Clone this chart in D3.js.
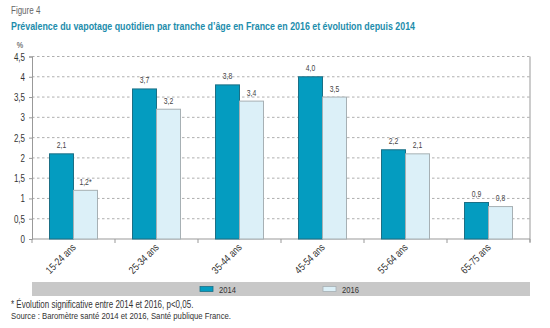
<!DOCTYPE html>
<html>
<head>
<meta charset="utf-8">
<script src="https://cdn.jsdelivr.net/npm/d3@7"></script>
<style>
  html, body { margin: 0; padding: 0; background: #fff; }
  svg { display: block; font-family: "Liberation Sans", Arial, sans-serif; }
</style>
</head>
<body>
<svg id="chart" width="550" height="328"></svg>
<script>
// Daily vaping prevalence by age group (%), 2014 vs 2016
const categories = ["15-24 ans", "25-34 ans", "35-44 ans", "45-54 ans", "55-64 ans", "65-75 ans"];
const values2014 = [2.1, 3.7, 3.8, 4.0, 2.2, 0.9];
const values2016 = [1.2, 3.2, 3.4, 3.5, 2.1, 0.8];
const significant2016 = [true, false, false, false, false, false];
const seriesNames = ["2014", "2016"];
const yTicks = [0, 0.5, 1, 1.5, 2, 2.5, 3, 3.5, 4, 4.5];

const svg = d3.select("#chart");
const plotLeft = 32, plotRight = 530, plotTop = 56.5, plotBottom = 239;
const colors = { "2014": "#049cc0", "2016": "#dcf0f8" };
const strokes = { "2014": "#1b6f85", "2016": "#a7b0b4" };
const comma = v => String(v).replace(".", ",");
const fmt1 = v => v.toFixed(1).replace(".", ",");
const NARROW = 0.8; // condensed typeface look

// Text helper: places text at (x, y) with a horizontally condensed glyph shape
function label(parent, x, y, txt, opts = {}) {
  const t = parent.append("text")
    .attr("transform", `translate(${x},${y})${opts.rotate ? ` rotate(${opts.rotate})` : ""} scale(${opts.narrow || NARROW},1)`)
    .attr("font-size", opts.size || 9)
    .attr("fill", opts.fill || "#333")
    .attr("text-anchor", opts.anchor || "start")
    .text(txt);
  if (opts.weight) t.attr("font-weight", opts.weight);
  return t;
}

// Header
label(svg, 11, 14, "Figure 4", { size: 10, fill: "#666" });
label(svg, 11, 30, "Prévalence du vapotage quotidien par tranche d’âge en France en 2016 et évolution depuis 2014",
  { size: 11.5, weight: "bold", fill: "#1d8dac", narrow: 0.77 });

const x = d3.scaleBand().domain(categories).range([plotLeft, plotRight]);
const y = d3.scaleLinear().domain([0, 4.5]).range([plotBottom, plotTop]);
const barW = 24;

// Dashed grid
svg.append("g").selectAll("line").data(yTicks.filter(t => t > 0)).join("line")
  .attr("x1", plotLeft).attr("x2", plotRight)
  .attr("y1", d => y(d)).attr("y2", d => y(d))
  .attr("stroke", "#9a9a9a").attr("stroke-width", 0.8).attr("stroke-dasharray", "2.5,2.5");

// Y axis
const yAxis = svg.append("g").attr("transform", `translate(${plotLeft},0)`)
  .call(d3.axisLeft(y).tickValues(yTicks).tickFormat(comma).tickSize(3).tickPadding(3));
yAxis.select(".domain").attr("stroke", "#999");
yAxis.selectAll(".tick line").attr("stroke", "#999");
yAxis.selectAll(".tick text")
  .attr("x", null).attr("dy", null)
  .attr("transform", `translate(-7,3.5) scale(${NARROW},1)`)
  .attr("font-size", 10).attr("fill", "#333")
  .attr("font-family", "Liberation Sans, Arial, sans-serif");

label(svg, 20, 48, "%", { size: 9, anchor: "middle" });

// Right frame line
svg.append("line").attr("x1", plotRight).attr("x2", plotRight).attr("y1", plotTop).attr("y2", plotBottom + 3)
  .attr("stroke", "#999");

// X axis with tick marks at band boundaries
svg.append("line").attr("x1", plotLeft).attr("x2", plotRight).attr("y1", plotBottom).attr("y2", plotBottom)
  .attr("stroke", "#999");
const bounds = categories.map(c => x(c)).concat([plotRight]);
svg.append("g").selectAll("line").data(bounds).join("line")
  .attr("x1", d => d).attr("x2", d => d).attr("y1", plotBottom).attr("y2", plotBottom + 4)
  .attr("stroke", "#999");

// Category labels, rotated
const catG = svg.append("g");
categories.forEach(c => {
  label(catG, x(c) + x.bandwidth() / 2 + 3, plotBottom + 9, c, { size: 10.5, anchor: "end", rotate: -45 });
});

// Bars
const rows = categories.map((c, i) => [
  { cat: c, s: "2014", v: values2014[i], star: false },
  { cat: c, s: "2016", v: values2016[i], star: significant2016[i] }
]).flat();
const bx = d => x(d.cat) + x.bandwidth() / 2 + (d.s === "2014" ? -barW : 0);

svg.append("g").selectAll("rect").data(rows).join("rect")
  .attr("x", bx).attr("y", d => y(d.v))
  .attr("width", barW).attr("height", d => y(0) - y(d.v))
  .attr("fill", d => colors[d.s]).attr("stroke", d => strokes[d.s]).attr("stroke-width", 1);

const valG = svg.append("g");
rows.forEach(d => {
  label(valG, bx(d) + barW / 2, y(d.v) - 5.5, fmt1(d.v) + (d.star ? "*" : ""),
    { size: 8.5, anchor: "middle", fill: "#444" });
});

// Legend band
svg.append("rect").attr("x", plotLeft).attr("y", 282).attr("width", plotRight - plotLeft).attr("height", 14)
  .attr("fill", "#c8c8c8");
const legendX = [200, 323];
seriesNames.forEach((s, i) => {
  svg.append("rect").attr("x", legendX[i]).attr("y", 286.5).attr("width", 13).attr("height", 5)
    .attr("fill", colors[s]).attr("stroke", strokes[s]).attr("stroke-width", 0.8);
  label(svg, legendX[i] + 19, 292.5, s, { size: 9.5 });
});

// Notes
label(svg, 11, 308, "* Évolution significative entre 2014 et 2016, p<0,05.", { size: 10, fill: "#333" });
label(svg, 11, 319, "Source : Baromètre santé 2014 et 2016, Santé publique France.", { size: 9.7, fill: "#333" });
</script>
</body>
</html>
